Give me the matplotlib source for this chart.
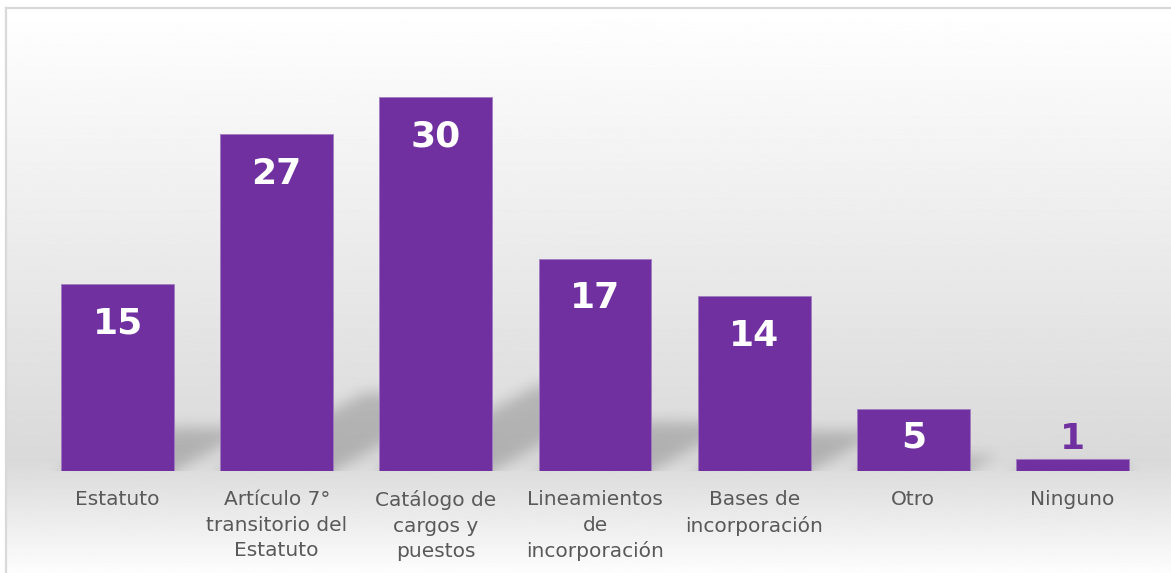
import numpy as np
import matplotlib.pyplot as plt
from matplotlib.lines import Line2D

# Data
categories = ['Estatuto',
              'Artículo 7°\ntransitorio del\nEstatuto',
              'Catálogo de\ncargos y\npuestos',
              'Lineamientos\nde\nincorporación',
              'Bases de\nincorporación',
              'Otro',
              'Ninguno']
values = [15, 27, 30, 17, 14, 5, 1]

purple = '#7030A0'
W, H = 1171, 573

fig = plt.figure(figsize=(W / 100, H / 100), dpi=100)
fig.patch.set_facecolor('white')

# chart area background: white -> gray -> white
bg = fig.add_axes([6 / W, 0, 1 - 6 / W, (H - 8) / H])
t = np.linspace(0, 1, 600)
shade = np.interp(t, [0, 0.8, 1.0], [255, 217, 253]) / 255
bg.imshow(shade[:, None], cmap='gray', vmin=0, vmax=1, aspect='auto',
          extent=(0, 1, 0, 1))
bg.axis('off')

# chart border (top and left visible)
fig.add_artist(Line2D([6 / W, 1], [(H - 8) / H] * 2, transform=fig.transFigure,
                      color='#d9d9d9', lw=1.6))
fig.add_artist(Line2D([6 / W] * 2, [0, (H - 8) / H], transform=fig.transFigure,
                      color='#d9d9d9', lw=1.6))

# main plot
ax = fig.add_axes([38 / W, (H - 471) / H, 1114 / W, 399 / H])
ax.set_facecolor('none')
ymax = 32
ax.set_xlim(-0.5, 6.5)
ax.set_ylim(0, ymax)
x = np.arange(len(values))
width = 0.71

# perspective shadows behind the bars (grid goes a bit below 0 so the blur
# does not fade at the baseline)
nx, ny = 1114, 399
extra = 40
gx = np.linspace(-0.5, 6.5, nx)
gy = np.linspace(ymax, -extra * ymax / ny, ny + extra)
GX, GY = np.meshgrid(gx, gy)
mask = np.zeros_like(GX)
k = 0.145  # horizontal skew per unit of height
for xi, v in zip(x, values):
    hs = 0.23 * v
    sk = k * np.clip(GY, 0, None)
    inside = (GY <= hs) & (GX >= xi - width / 2 + sk) & (GX <= xi + width / 2 + sk)
    mask[inside] = 1.0


def blur(a, sigma, axis):
    r = int(3 * sigma)
    kern = np.exp(-0.5 * (np.arange(-r, r + 1) / sigma) ** 2)
    kern /= kern.sum()
    return np.apply_along_axis(lambda m: np.convolve(m, kern, mode='same'), axis, a)


mask = blur(blur(mask, 7, 0), 7, 1)[:ny]
rgba = np.zeros((ny, nx, 4))
rgba[..., 3] = 0.19 * mask
ax.imshow(rgba, extent=(-0.5, 6.5, 0, ymax), aspect='auto', zorder=1,
          interpolation='bilinear')

ax.bar(x, values, width=width, color=purple, edgecolor='#a07cc0',
       linewidth=0.6, zorder=3)

# value labels
for xi, v in zip(x, values):
    if v >= 3:
        ax.text(xi, v - min(3.05, 0.44 * v) - 0.1, str(v), ha='center', va='center',
                color='white', fontsize=26, fontweight='bold', zorder=4)
    else:
        ax.text(xi, v + 1.76 - 0.2, str(v), ha='center', va='center',
                color=purple, fontsize=26, fontweight='bold', zorder=4)

ax.set_xticks(x, categories)
ax.tick_params(axis='x', length=0, pad=14, labelsize=14.5, labelcolor='#595959')
for lbl in ax.get_xticklabels():
    lbl.set_linespacing(1.42)
ax.set_yticks([])
for s in ax.spines.values():
    s.set_visible(False)

fig.savefig('out.png', dpi=100, facecolor=fig.get_facecolor())
